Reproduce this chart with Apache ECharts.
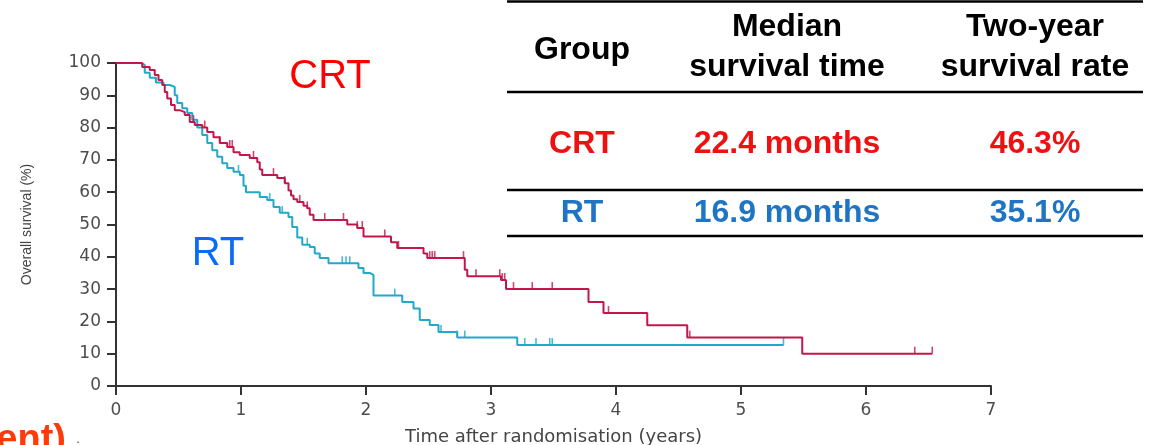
<!DOCTYPE html>
<html lang="en">
<head>
<meta charset="utf-8">
<title>Overall survival CRT vs RT</title>
<script src="https://cdn.jsdelivr.net/npm/echarts/dist/echarts.min.js"></script>
<style>
  html, body { margin: 0; padding: 0; background: #fff; }
  #main { width: 1149px; height: 445px; }
</style>
</head>
<body>
<div id="main"></div>
<script>
// Kaplan-Meier steps (years, % surviving after the drop)
var crtTime = [0, 0.21, 0.27, 0.31, 0.34, 0.37, 0.39, 0.41, 0.44, 0.47, 0.51, 0.55, 0.59, 0.63, 0.69, 0.73, 0.78, 0.83, 0.89, 0.94, 0.99, 1.07, 1.13, 1.15, 1.17, 1.29, 1.35, 1.38, 1.40, 1.42, 1.45, 1.50, 1.53, 1.55, 1.58, 1.85, 1.93, 1.98, 2.20, 2.25, 2.46, 2.49, 2.79, 2.81, 3.08, 3.12, 3.78, 3.90, 4.25, 4.57, 5.49, 6.53];
var crtSurv = [100, 98.8, 97.8, 96.3, 94.7, 93.2, 91, 89, 87, 85.4, 84.8, 83.9, 81.7, 80.8, 80, 78.6, 77, 75.2, 74, 72.4, 71.5, 70.6, 69.3, 67, 65.3, 64.4, 62.8, 60.5, 59, 57.8, 57, 55.8, 55, 53, 51.4, 50, 48.9, 46.3, 44.5, 42.7, 41, 39.6, 36, 34, 32.8, 30, 26, 22.6, 18.8, 15, 10, 10];
var rtTime = [0, 0.20, 0.23, 0.27, 0.32, 0.38, 0.43, 0.47, 0.49, 0.53, 0.57, 0.61, 0.65, 0.69, 0.73, 0.77, 0.81, 0.85, 0.89, 0.94, 0.99, 1.02, 1.04, 1.15, 1.21, 1.26, 1.31, 1.38, 1.41, 1.45, 1.49, 1.55, 1.59, 1.63, 1.70, 1.94, 1.98, 2.03, 2.06, 2.29, 2.38, 2.43, 2.51, 2.58, 2.73, 3.21, 5.34];
var rtSurv = [100, 99.4, 97, 95.4, 94, 93.2, 92.6, 90, 87.6, 86, 84.5, 82.4, 80, 77.7, 75.2, 73, 71, 69, 67.5, 66.3, 65.3, 62, 60, 58.5, 57.6, 55.4, 53.6, 52.3, 49.2, 46, 43.7, 43, 41, 39.6, 38, 36.5, 35, 34.4, 28, 26, 24, 20.4, 18.9, 16.7, 15, 12.7, 12.7];
// censored patients (tick marks)
var crtCensor = [0.62, 0.71, 0.83, 0.91, 0.93, 1.10, 1.26, 1.35, 1.47, 1.53, 1.67, 1.82, 1.93, 1.97, 2.15, 2.26, 2.51, 2.53, 2.55, 2.78, 2.88, 3.07, 3.09, 3.11, 3.18, 3.33, 3.49, 3.94, 4.59, 6.39, 6.53];
var rtCensor = [0.98, 1.23, 1.33, 1.53, 1.81, 1.84, 1.87, 2.23, 2.60, 2.73, 2.79, 3.27, 3.36, 3.47, 3.49, 5.34];
var yTicks = [0, 10, 20, 30, 40, 50, 60, 70, 80, 90, 100];
var xTicks = [0, 1, 2, 3, 4, 5, 6, 7];

// table on the right
var tableHead = [['Group'], ['Median', 'survival time'], ['Two-year', 'survival rate']];
var tableRows = [
  ['CRT', '22.4 months', '46.3%'],
  ['RT', '16.9 months', '35.1%']
];

var crtColor = '#c3164b';
var rtColor = '#22a8c9';

function zip(a, b) {
  var out = [];
  for (var i = 0; i < a.length; i++) out.push([a[i], b[i]]);
  return out;
}
function survAt(times, surv, t) {
  var v = surv[0];
  for (var i = 0; i < times.length; i++) {
    if (times[i] <= t + 1e-9) v = surv[i];
  }
  return v;
}
function censorPoints(ts, times, surv) {
  return ts.map(function (t) { return [t, survAt(times, surv, t)]; });
}

var chart = echarts.init(document.getElementById('main'));

var boldFont = 'bold 32px "Liberation Sans", Arial, sans-serif';
var graphics = [];
// table rules
[1.5, 92, 190, 236].forEach(function (y) {
  graphics.push({
    type: 'line',
    shape: { x1: 507, y1: y, x2: 1143, y2: y },
    style: { stroke: '#000', lineWidth: 2.5 }
  });
});
var colX = [582, 787, 1035];
graphics.push({ type: 'text', style: { text: tableHead[0][0], x: colX[0], y: 50, fill: '#000', font: boldFont, textAlign: 'center', textVerticalAlign: 'middle' } });
for (var c = 1; c < 3; c++) {
  graphics.push({ type: 'text', style: { text: tableHead[c][0], x: colX[c], y: 27, fill: '#000', font: boldFont, textAlign: 'center', textVerticalAlign: 'middle' } });
  graphics.push({ type: 'text', style: { text: tableHead[c][1], x: colX[c], y: 67, fill: '#000', font: boldFont, textAlign: 'center', textVerticalAlign: 'middle' } });
}
var rowY = [144, 213];
var rowFill = ['#ee1111', '#1f74c4'];
tableRows.forEach(function (row, r) {
  row.forEach(function (txt, c) {
    graphics.push({ type: 'text', style: { text: txt, x: colX[c], y: rowY[r], fill: rowFill[r], font: boldFont, textAlign: 'center', textVerticalAlign: 'middle' } });
  });
});
// group labels inside the plot
graphics.push({ type: 'text', style: { text: 'CRT', x: 330, y: 77, fill: '#ff0000', font: '40px "Liberation Sans", Arial, sans-serif', textAlign: 'center', textVerticalAlign: 'middle' } });
graphics.push({ type: 'text', style: { text: 'RT', x: 218, y: 254, fill: '#0a6cf5', font: '40px "Liberation Sans", Arial, sans-serif', textAlign: 'center', textVerticalAlign: 'middle' } });
// cut-off slide text at lower left
graphics.push({ type: 'text', style: { text: 'ent)', x: 66, y: 460, fill: '#ff3a0a', font: 'bold 38px "Liberation Sans", Arial, sans-serif', textAlign: 'right', textVerticalAlign: 'bottom' } });
graphics.push({ type: 'text', style: { text: '.', x: 78, y: 446, fill: '#555', font: '14px "Liberation Sans", Arial, sans-serif', textAlign: 'center', textVerticalAlign: 'bottom' } });

var option = {
  backgroundColor: '#fff',
  animation: false,
  grid: { left: 116, top: 63, width: 875, height: 323, containLabel: false, outerBoundsMode: 'none' },
  xAxis: {
    type: 'value',
    min: xTicks[0],
    max: xTicks[xTicks.length - 1],
    interval: 1,
    name: 'Time after randomisation (years)',
    nameLocation: 'middle',
    nameGap: 42,
    nameTextStyle: { color: '#444', fontSize: 18, fontFamily: 'DejaVu Sans' },
    axisLine: { show: true, lineStyle: { color: '#333', width: 2 } },
    axisTick: { show: true, length: 9, lineStyle: { color: '#333', width: 2 } },
    axisLabel: { color: '#4d4d4d', fontSize: 17, fontFamily: 'DejaVu Sans', margin: 16 },
    splitLine: { show: false }
  },
  yAxis: {
    type: 'value',
    min: yTicks[0],
    max: yTicks[yTicks.length - 1],
    interval: 10,
    name: 'Overall survival (%)',
    nameLocation: 'middle',
    nameGap: 82,
    nameRotate: 90,
    nameTextStyle: { color: '#444', fontSize: 14, fontFamily: 'Liberation Sans' },
    axisLine: { show: true, lineStyle: { color: '#333', width: 2 } },
    axisTick: { show: true, length: 9, lineStyle: { color: '#333', width: 2 } },
    axisLabel: { color: '#4d4d4d', fontSize: 17, fontFamily: 'DejaVu Sans', margin: 15 },
    splitLine: { show: false }
  },
  series: [
    {
      name: 'RT',
      type: 'line',
      step: 'end',
      showSymbol: false,
      data: zip(rtTime, rtSurv),
      lineStyle: { color: rtColor, width: 2 },
      z: 2
    },
    {
      name: 'CRT',
      type: 'line',
      step: 'end',
      showSymbol: false,
      data: zip(crtTime, crtSurv),
      lineStyle: { color: crtColor, width: 2 },
      z: 3
    },
    {
      name: 'RT censored',
      type: 'scatter',
      symbol: 'rect',
      symbolSize: [1.6, 7],
      symbolOffset: [0, -3.5],
      itemStyle: { color: rtColor },
      data: censorPoints(rtCensor, rtTime, rtSurv),
      z: 2
    },
    {
      name: 'CRT censored',
      type: 'scatter',
      symbol: 'rect',
      symbolSize: [1.6, 7],
      symbolOffset: [0, -3.5],
      itemStyle: { color: crtColor },
      data: censorPoints(crtCensor, crtTime, crtSurv),
      z: 3
    }
  ],
  graphic: graphics
};

chart.setOption(option);
</script>
</body>
</html>
